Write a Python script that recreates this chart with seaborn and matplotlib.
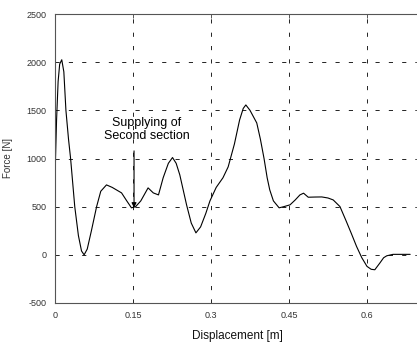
import matplotlib
matplotlib.use("Agg")
import matplotlib.pyplot as plt
import seaborn as sns
import pandas as pd

displacement = [0.0, 0.001, 0.003, 0.006, 0.009, 0.013, 0.017, 0.021, 0.026, 0.030,
                0.038, 0.045, 0.051, 0.056, 0.062, 0.070, 0.080, 0.088, 0.099, 0.110,
                0.128, 0.138, 0.147, 0.155, 0.165, 0.179, 0.189, 0.199, 0.208, 0.218,
                0.226, 0.233, 0.240, 0.253, 0.262, 0.271, 0.280, 0.290, 0.298, 0.310,
                0.323, 0.333, 0.345, 0.355, 0.362, 0.367, 0.375, 0.388, 0.395, 0.402,
                0.408, 0.413, 0.420, 0.431, 0.440, 0.452, 0.462, 0.471, 0.478, 0.487,
                0.500, 0.513, 0.525, 0.535, 0.548, 0.560, 0.570, 0.580, 0.590, 0.600,
                0.608, 0.615, 0.625, 0.632, 0.638, 0.650, 0.665, 0.683]
force = [720, 1000, 1400, 1800, 1980, 2025, 1900, 1500, 1200, 1000,
         500, 200, 40, 0, 60, 250, 500, 660, 726, 700,
         643, 560, 488, 500, 560, 695, 643, 622, 800, 950,
         1010, 950, 830, 519, 330, 228, 290, 430, 560, 700,
         800, 913, 1150, 1400, 1520, 1556, 1500, 1369, 1200, 1000,
         800, 674, 560, 488, 500, 519, 570, 622, 640, 598,
         600, 601, 590, 570, 501, 350, 220, 86, -30, -120,
         -150, -155, -83, -30, -10, 5, 5, 5]

x_ticks = [0, 0.15, 0.3, 0.45, 0.6]
x_tick_labels = ["0", "0.15", "0.3", "0.45", "0.6"]
y_ticks = [-500, 0, 500, 1000, 1500, 2000, 2500]
y_tick_labels = ["-500", "0", "500", "1000", "1500", "2000", "2500"]
annotation_text = "Supplying of\nSecond section"
arrow_x = 0.152
arrow_y_start = 1079
arrow_y_end = 488

df = pd.DataFrame({"Displacement": displacement, "Force": force})

sns.set_style("white")
plt.rcParams["font.family"] = ["Liberation Sans", "DejaVu Sans"]

fig = plt.figure(figsize=(4.17, 3.42), dpi=100)
ax = fig.add_axes([55 / 417, (342 - 303) / 342, (419 - 55) / 417, (303 - 14) / 342])

sns.lineplot(data=df, x="Displacement", y="Force", sort=False, estimator=None,
             color="black", linewidth=0.8, ax=ax)

ax.set_xlim(0, 0.7)
ax.set_ylim(-500, 2500)
ax.set_xticks(x_ticks)
ax.set_xticklabels(x_tick_labels)
ax.set_yticks(y_ticks)
ax.set_yticklabels(y_tick_labels)

ax.grid(True, color="black", linestyle=(0, (5, 11)), linewidth=0.6)
ax.set_axisbelow(True)

for side, sp in ax.spines.items():
    sp.set_visible(True)
    sp.set_color("#555555")
    sp.set_linewidth(0.8)

ax.tick_params(direction="in", length=3, width=0.7, colors="#555555",
               labelcolor="#333333", labelsize=6.5, top=True, right=True,
               pad=6)

ax.set_xlabel("Displacement [m]", fontsize=8.5, color="#111111", labelpad=7)
ax.set_ylabel("Force [N]", fontsize=7, color="#333333", labelpad=10)

ax.annotate("", xy=(arrow_x, arrow_y_end), xytext=(arrow_x, arrow_y_start),
            arrowprops=dict(arrowstyle="-|>", color="black", lw=0.8,
                            mutation_scale=7, shrinkA=0, shrinkB=0))
ax.text(0.176, 1300, annotation_text, ha="center", va="center",
        fontsize=9, color="black", linespacing=1.05)

fig.savefig("out.png", dpi=100)
